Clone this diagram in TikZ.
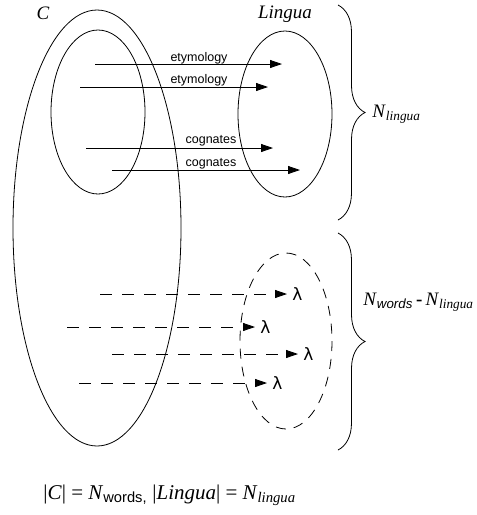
\documentclass[tikz,border=0pt]{standalone}
\usepackage{fontspec}
\setmainfont{Liberation Serif}
\setsansfont{Liberation Sans}
\newfontfamily\lamfont{DejaVu Sans}
\usetikzlibrary{arrows.meta,decorations.pathreplacing}

\begin{document}
\begin{tikzpicture}[x=1pt,y=-1pt,line width=0.8pt]

\tikzset{link/.style={-{Triangle[length=12pt,width=8pt]}},
    nolink/.style={link,dash pattern=on 12pt off 10pt},
    rel/.style={anchor=base,inner sep=0pt,font=\sffamily\fontsize{12.5}{14}\selectfont},
    setname/.style={font=\itshape\fontsize{19}{21}\selectfont},
    lam/.style={anchor=west,inner sep=0pt,font=\lamfont\fontsize{17}{19}\selectfont},
    count/.style={anchor=west,inner sep=0pt,font=\fontsize{19}{22}\selectfont},
    brace/.style={decorate,decoration={brace,amplitude=27pt}}}

\useasboundingbox (0,0) rectangle (477,515);

% the sets
\draw (97,228) ellipse [x radius=84,y radius=218];
\draw (98,112) ellipse [x radius=47,y radius=82];
\draw (285,114) ellipse [x radius=47,y radius=83];
\draw[dash pattern=on 10pt off 8pt] (286,341) ellipse [x radius=46,y radius=88];

\path (43,13) node[setname] (cname) {C};
\path (285,14) node[setname] (lname) {Lingua};

% words that have a match
\foreach \nm/\xa/\xb/\yy in {a/95/282/64,b/80/268/87,c/86/273/148,d/112/300/170}
{
    \coordinate (\nm0) at (\xa,\yy);
    \coordinate (\nm1) at (\xb,\yy);
    \draw[link] (\nm0)--(\nm1);
}

\path (199,61) node[rel] (ety1) {etymology};
\path (199,83) node[rel] (ety2) {etymology};
\path (211,143) node[rel] (cog1) {cognates};
\path (211,166) node[rel] (cog2) {cognates};

% words without a match
\foreach \nm/\xa/\xb/\yy in {p/100/287/294,q/67/255/327,r/112/298/354,s/79/267/383}
{
    \coordinate (\nm0) at (\xa,\yy);
    \path (\xb+5,\yy) node[lam] (\nm) {λ};
    \draw[nolink,shorten >=5pt] (\nm0)--(\nm.west);
}

% counts
\coordinate (top1) at (338,5);
\coordinate (bot1) at (338,220);
\coordinate (top2) at (338,233);
\coordinate (bot2) at (338,450);
\draw[brace] (top1)--(bot1);
\draw[brace] (top2)--(bot2);

\path (372,114) node[count] (nlin) {\textit{N}\textsubscript{\textit{lingua}}};
\path (363,302) node[count] (nrest) {\textit{N}\textsubscript{\sffamily\itshape words}\,\textbf{-}\,\textit{N}\textsubscript{\textit{lingua}}};

\path (43,495) node[count,font=\fontsize{21}{24}\selectfont] (sizes) {|\textit{C}| = \textit{N}\textsubscript{\sffamily words,} |\textit{Lingua}| = \textit{N}\textsubscript{\textit{lingua}}};

\end{tikzpicture}
\end{document}
